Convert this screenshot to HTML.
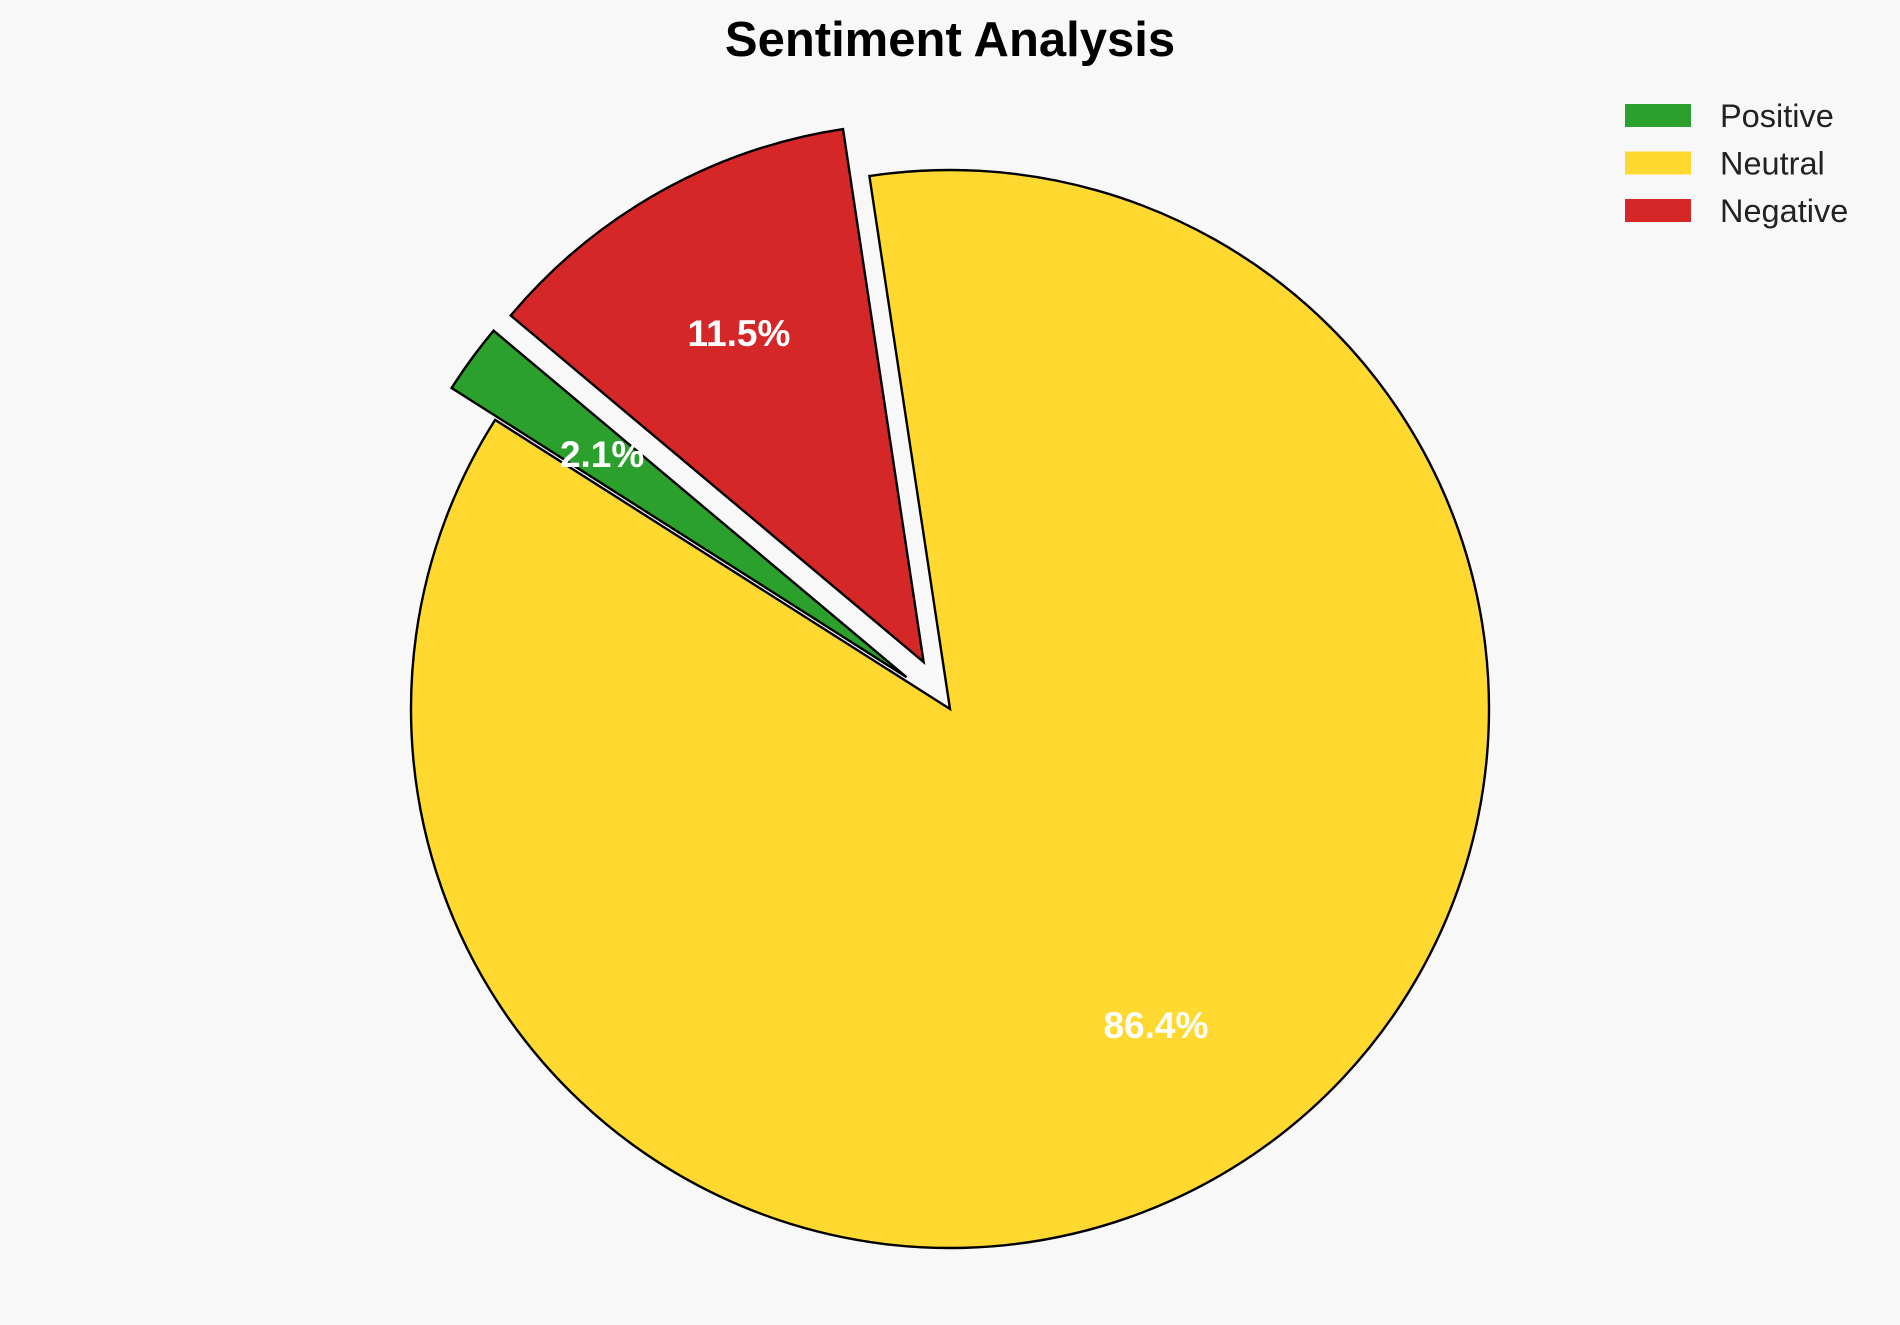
<!DOCTYPE html>
<html><head><meta charset="utf-8"><style>
html,body{margin:0;padding:0;background:#f8f8f8;}
svg{display:block;font-family:"Liberation Sans",Arial,sans-serif;}
</style></head><body>
<svg id="chart" width="1900" height="1325" viewBox="0 0 1900 1325">
<rect width="1900" height="1325" fill="#f8f8f8"/>
<text x="950" y="56" text-anchor="middle" font-size="49" font-weight="bold" fill="#000">Sentiment Analysis</text>
<g id="slices"></g>
<g id="legend"></g>
</svg>
<script>
const categories = ["Positive", "Neutral", "Negative"];
const values = [2.1, 86.4, 11.5];
const explode = [0.1, 0, 0.1];
const colors = ["#2ca02c", "#ffd92f", "#d62728"];

const NS = "http://www.w3.org/2000/svg";
const cx = 950, cy = 709, R = 539, startAngle = 140, pctDist = 0.7;
const total = values.reduce((a, b) => a + b, 0);
const slices = document.getElementById('slices');
const labels = [];
let a0 = startAngle;
function pt(x, y, ang, r) {
  const t = ang * Math.PI / 180;
  return [x + r * Math.cos(t), y - r * Math.sin(t)];
}
values.forEach((v, i) => {
  const sweep = v / total * 360;
  const a1 = a0 + sweep;
  const mid = (a0 + a1) / 2;
  const [ox, oy] = pt(cx, cy, mid, explode[i] * R);
  const p0 = pt(ox, oy, a0, R), p1 = pt(ox, oy, a1, R);
  const large = sweep > 180 ? 1 : 0;
  const path = document.createElementNS(NS, 'path');
  path.setAttribute('d', `M${ox},${oy} L${p0[0]},${p0[1]} A${R},${R} 0 ${large} 0 ${p1[0]},${p1[1]} Z`);
  path.setAttribute('fill', colors[i]);
  path.setAttribute('stroke', '#000');
  path.setAttribute('stroke-width', '2.4');
  
  
  slices.appendChild(path);
  const lp = pt(ox, oy, mid, pctDist * R);
  labels.push([lp, v]);
  a0 = a1;
});
labels.forEach(([lp, v], i) => {
  const t = document.createElementNS(NS, 'text');
  t.setAttribute('x', lp[0]);
  t.setAttribute('y', lp[1] + 13);
  t.setAttribute('text-anchor', 'middle');
  t.setAttribute('font-size', '37');
  t.setAttribute('font-weight', 'bold');
  t.setAttribute('fill', '#fff');
  t.textContent = v.toFixed(1) + '%';
  
  
  slices.appendChild(t);
});
const legend = document.getElementById('legend');
categories.forEach((c, i) => {
  const y = 104 + i * 47.5;
  const r = document.createElementNS(NS, 'rect');
  r.setAttribute('x', 1625); r.setAttribute('y', y);
  r.setAttribute('width', 66); r.setAttribute('height', 23);
  r.setAttribute('fill', colors[i]);
  
  
  legend.appendChild(r);
  const t = document.createElementNS(NS, 'text');
  t.setAttribute('x', 1720); t.setAttribute('y', y + 23);
  t.setAttribute('font-size', '32.5');
  t.setAttribute('fill', '#222');
  t.textContent = c;
  
  
  legend.appendChild(t);
});
</script>
</body></html>
